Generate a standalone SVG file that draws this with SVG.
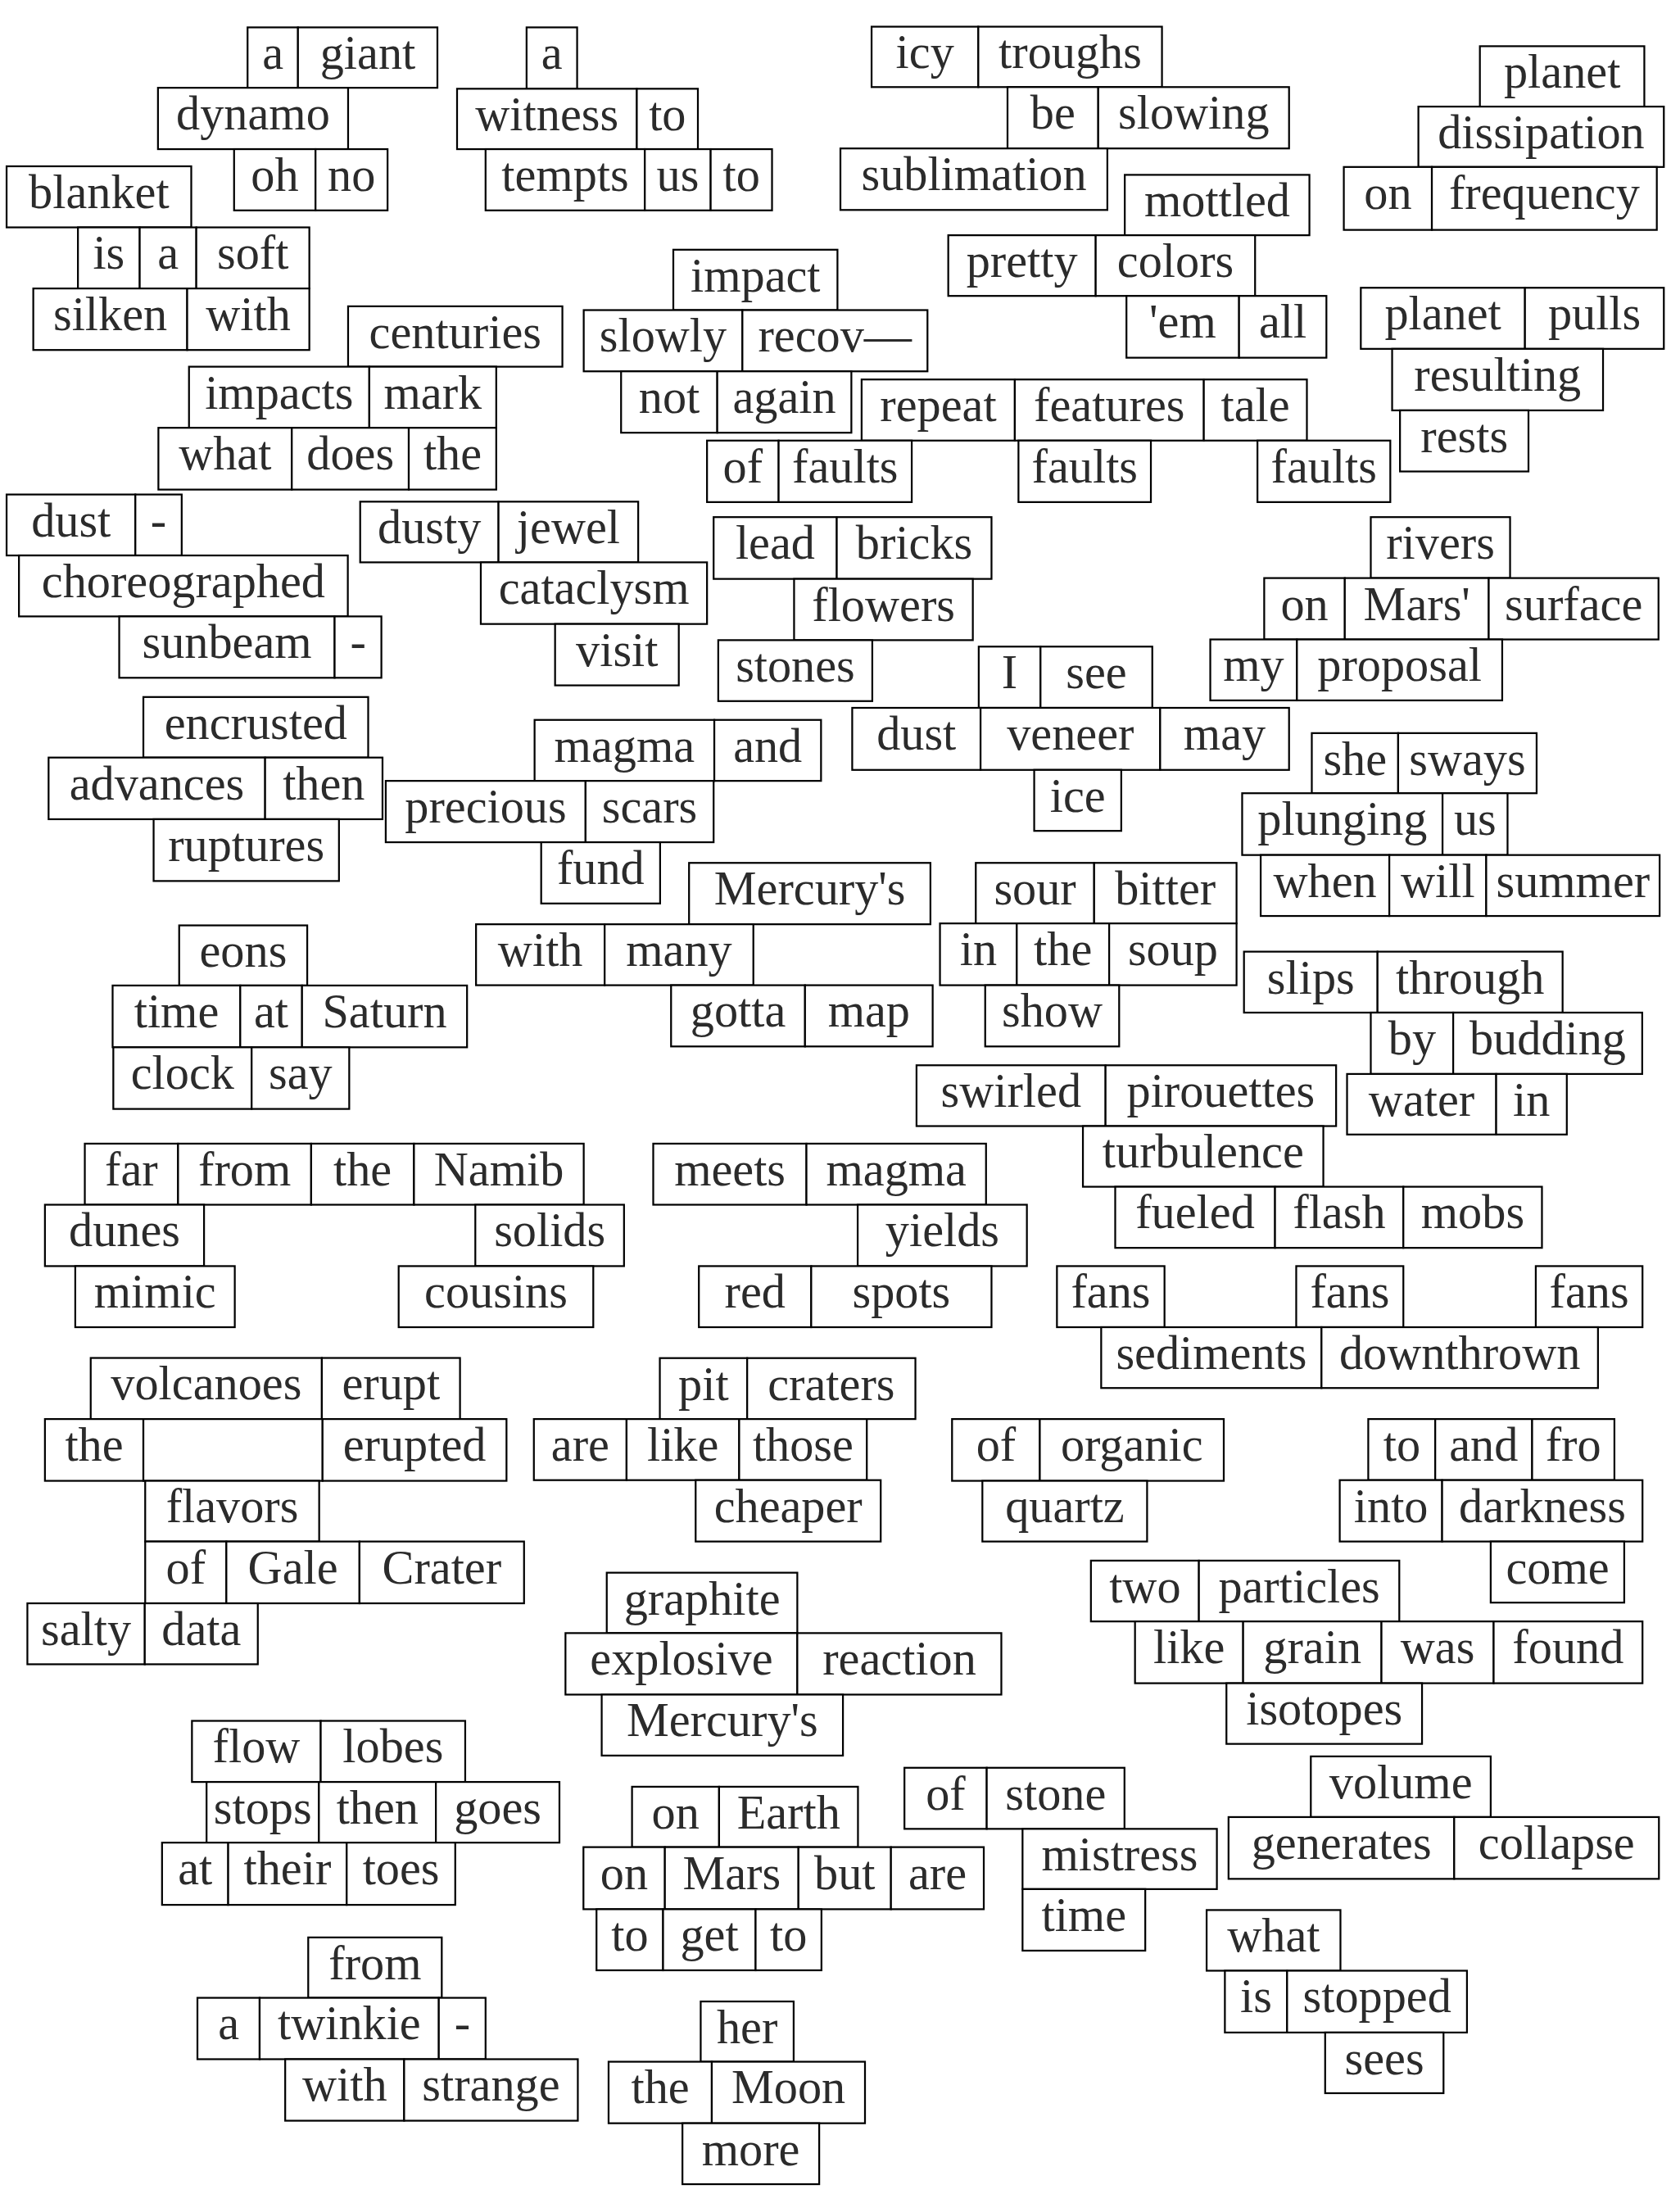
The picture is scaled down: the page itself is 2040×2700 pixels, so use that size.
<svg xmlns="http://www.w3.org/2000/svg" width="2040" height="2700" viewBox="0 0 2040 2700">
<style>
rect{fill:#fff;stroke:#000;stroke-width:1.3}
text{font-family:"Liberation Serif","Times New Roman",serif;font-size:34px;fill:#2b2b2b;text-anchor:middle}
</style>
<rect x="0" y="0" width="2040" height="2700" style="stroke:none"/>
<g transform="scale(1.714286)">
<g id="connectors"/>
<g id="n-giant">
<rect x="176.3" y="19.5" width="35.9" height="43"/><text x="194.3" y="49.2">a</text>
<rect x="212.2" y="19.5" width="99.3" height="43"/><text x="261.9" y="49.2">giant</text>
<rect x="112.5" y="62.5" width="135.4" height="43.7"/><text x="180.2" y="92.2">dynamo</text>
<rect x="166.7" y="106.2" width="58" height="43.6"/><text x="195.7" y="135.9">oh</text>
<rect x="224.7" y="106.2" width="51.3" height="43.6"/><text x="250.4" y="135.9">no</text>
</g>
<g id="n-blanket">
<rect x="4.7" y="118.4" width="131.5" height="43.5"/><text x="70.5" y="148.1">blanket</text>
<rect x="55.5" y="161.9" width="44" height="43.5"/><text x="77.5" y="191.6">is</text>
<rect x="99.5" y="161.9" width="40.3" height="43.5"/><text x="119.7" y="191.6">a</text>
<rect x="139.8" y="161.9" width="80.5" height="43.5"/><text x="180.1" y="191.6">soft</text>
<rect x="23.7" y="205.4" width="109.6" height="43.8"/><text x="78.5" y="235.1">silken</text>
<rect x="133.3" y="205.4" width="87" height="43.8"/><text x="176.8" y="235.1">with</text>
</g>
<g id="n-witness">
<rect x="375" y="19.5" width="36" height="43.7"/><text x="393" y="49.2">a</text>
<rect x="325.5" y="63.2" width="128" height="43"/><text x="389.5" y="92.9">witness</text>
<rect x="453.5" y="63.2" width="43.5" height="43"/><text x="475.3" y="92.9">to</text>
<rect x="345.8" y="106.2" width="113.4" height="43.6"/><text x="402.5" y="135.9">tempts</text>
<rect x="459.2" y="106.2" width="46.9" height="43.6"/><text x="482.7" y="135.9">us</text>
<rect x="506.1" y="106.2" width="43.7" height="43.6"/><text x="528" y="135.9">to</text>
</g>
<g id="n-icy">
<rect x="620.7" y="19" width="76" height="43"/><text x="658.7" y="48.7">icy</text>
<rect x="696.7" y="19" width="130.8" height="43"/><text x="762.1" y="48.7">troughs</text>
<rect x="717.5" y="62" width="64.6" height="43.7"/><text x="749.8" y="91.7">be</text>
<rect x="782.1" y="62" width="135.9" height="43.7"/><text x="850.1" y="91.7">slowing</text>
<rect x="598.5" y="105.7" width="190.1" height="43.8"/><text x="693.6" y="135.4">sublimation</text>
</g>
<g id="n-dissipation">
<rect x="1053.9" y="32.9" width="117.1" height="43"/><text x="1112.5" y="62.6">planet</text>
<rect x="1010.1" y="75.9" width="174.8" height="43"/><text x="1097.5" y="105.6">dissipation</text>
<rect x="957" y="118.9" width="62.7" height="44.8"/><text x="988.4" y="148.6">on</text>
<rect x="1019.7" y="118.9" width="160.2" height="44.8"/><text x="1099.8" y="148.6">frequency</text>
</g>
<g id="n-mottled">
<rect x="801" y="124.5" width="131.5" height="43"/><text x="866.8" y="154.2">mottled</text>
<rect x="675.3" y="167.5" width="105" height="43.2"/><text x="727.8" y="197.2">pretty</text>
<rect x="780.3" y="167.5" width="113.5" height="43.2"/><text x="837.1" y="197.2">colors</text>
<rect x="802.2" y="210.7" width="80.2" height="44"/><text x="842.3" y="240.4">'em</text>
<rect x="882.4" y="210.7" width="62.2" height="44"/><text x="913.5" y="240.4">all</text>
</g>
<g id="n-impact">
<rect x="479.5" y="177.8" width="116.9" height="43"/><text x="538" y="207.5">impact</text>
<rect x="415.7" y="220.8" width="113" height="43.6"/><text x="472.2" y="250.5">slowly</text>
<rect x="528.7" y="220.8" width="131.8" height="43.6"/><text x="594.6" y="250.5">recov—</text>
<rect x="442.3" y="264.4" width="68.5" height="43.7"/><text x="476.6" y="294.1">not</text>
<rect x="510.8" y="264.4" width="95.5" height="43.7"/><text x="558.6" y="294.1">again</text>
</g>
<g id="n-centuries">
<rect x="247.9" y="218.1" width="152.6" height="43"/><text x="324.2" y="247.8">centuries</text>
<rect x="134.6" y="261.1" width="128.4" height="43.5"/><text x="198.8" y="290.8">impacts</text>
<rect x="263" y="261.1" width="90.4" height="43.5"/><text x="308.2" y="290.8">mark</text>
<rect x="112.8" y="304.6" width="95" height="44"/><text x="160.3" y="334.3">what</text>
<rect x="207.8" y="304.6" width="83.3" height="44"/><text x="249.5" y="334.3">does</text>
<rect x="291.1" y="304.6" width="62.3" height="44"/><text x="322.3" y="334.3">the</text>
</g>
<g id="n-pulls">
<rect x="969.1" y="204.9" width="116.9" height="43.5"/><text x="1027.6" y="234.6">planet</text>
<rect x="1086" y="204.9" width="98.9" height="43.5"/><text x="1135.5" y="234.6">pulls</text>
<rect x="991.4" y="248.4" width="150.2" height="43.8"/><text x="1066.5" y="278.1">resulting</text>
<rect x="997" y="292.2" width="91.5" height="43.5"/><text x="1042.8" y="321.9">rests</text>
</g>
<g id="n-faults">
<rect x="613.6" y="270.2" width="109.1" height="43.5"/><text x="668.2" y="299.9">repeat</text>
<rect x="722.7" y="270.2" width="134.6" height="43.5"/><text x="790" y="299.9">features</text>
<rect x="857.3" y="270.2" width="73.4" height="43.5"/><text x="894" y="299.9">tale</text>
<rect x="503.5" y="313.7" width="51" height="43.8"/><text x="529" y="343.4">of</text>
<rect x="554.5" y="313.7" width="94.8" height="43.8"/><text x="601.9" y="343.4">faults</text>
<rect x="725.3" y="313.7" width="94.3" height="43.8"/><text x="772.5" y="343.4">faults</text>
<rect x="895.5" y="313.7" width="94.6" height="43.8"/><text x="942.8" y="343.4">faults</text>
</g>
<g id="n-dust">
<rect x="4.7" y="352.1" width="91.7" height="43.4"/><text x="50.6" y="381.8">dust</text>
<rect x="96.4" y="352.1" width="33" height="43.4"/><text x="112.9" y="381.8">-</text>
<rect x="13.5" y="395.5" width="234.2" height="43.4"/><text x="130.6" y="425.2">choreographed</text>
<rect x="84.9" y="438.9" width="153.4" height="43.7"/><text x="161.6" y="468.6">sunbeam</text>
<rect x="238.3" y="438.9" width="33.3" height="43.7"/><text x="255" y="468.6">-</text>
</g>
<g id="n-jewel">
<rect x="256.5" y="357.2" width="98.5" height="43.2"/><text x="305.8" y="386.9">dusty</text>
<rect x="355" y="357.2" width="99.5" height="43.2"/><text x="404.8" y="386.9">jewel</text>
<rect x="342.4" y="400.4" width="161.1" height="43.9"/><text x="423" y="430.1">cataclysm</text>
<rect x="395.3" y="444.3" width="88.1" height="43.7"/><text x="439.4" y="474">visit</text>
</g>
<g id="n-bricks">
<rect x="508.2" y="368.2" width="87.7" height="44"/><text x="552.1" y="397.9">lead</text>
<rect x="595.9" y="368.2" width="110.2" height="44"/><text x="651" y="397.9">bricks</text>
<rect x="565.5" y="412.2" width="127.3" height="43.6"/><text x="629.2" y="441.9">flowers</text>
<rect x="511.5" y="455.8" width="109.7" height="43.4"/><text x="566.4" y="485.5">stones</text>
</g>
<g id="n-rivers">
<rect x="976.2" y="368.2" width="99.2" height="43.4"/><text x="1025.8" y="397.9">rivers</text>
<rect x="900.3" y="411.6" width="57.4" height="43.7"/><text x="929" y="441.3">on</text>
<rect x="957.7" y="411.6" width="102.5" height="43.7"/><text x="1009" y="441.3">Mars'</text>
<rect x="1060.2" y="411.6" width="120.9" height="43.7"/><text x="1120.7" y="441.3">surface</text>
<rect x="861.9" y="455.3" width="61.7" height="43.4"/><text x="892.8" y="485">my</text>
<rect x="923.6" y="455.3" width="146.2" height="43.4"/><text x="996.7" y="485">proposal</text>
</g>
<g id="n-isee">
<rect x="697" y="460.4" width="44" height="43.6"/><text x="719" y="490.1">I</text>
<rect x="741" y="460.4" width="79.6" height="43.6"/><text x="780.8" y="490.1">see</text>
<rect x="606.9" y="504" width="91.4" height="44.2"/><text x="652.6" y="533.7">dust</text>
<rect x="698.3" y="504" width="127.9" height="44.2"/><text x="762.3" y="533.7">veneer</text>
<rect x="826.2" y="504" width="91.8" height="44.2"/><text x="872.1" y="533.7">may</text>
<rect x="736.5" y="548.2" width="62" height="43.4"/><text x="767.5" y="577.9">ice</text>
</g>
<g id="n-encrusted">
<rect x="102.1" y="496.3" width="160.1" height="43.1"/><text x="182.2" y="526">encrusted</text>
<rect x="34.6" y="539.4" width="154.2" height="43.9"/><text x="111.7" y="569.1">advances</text>
<rect x="188.8" y="539.4" width="83.6" height="43.9"/><text x="230.6" y="569.1">then</text>
<rect x="109.4" y="583.3" width="132" height="44"/><text x="175.4" y="613">ruptures</text>
</g>
<g id="n-magma">
<rect x="380.7" y="512.6" width="128" height="43.4"/><text x="444.7" y="542.3">magma</text>
<rect x="508.7" y="512.6" width="76" height="43.4"/><text x="546.7" y="542.3">and</text>
<rect x="274.7" y="556" width="142.3" height="43.7"/><text x="345.9" y="585.7">precious</text>
<rect x="417" y="556" width="91.2" height="43.7"/><text x="462.6" y="585.7">scars</text>
<rect x="385.4" y="599.7" width="84.7" height="43.6"/><text x="427.8" y="629.4">fund</text>
</g>
<g id="n-sways">
<rect x="934.2" y="522" width="61.5" height="42.8"/><text x="965" y="551.7">she</text>
<rect x="995.7" y="522" width="98.6" height="42.8"/><text x="1045" y="551.7">sways</text>
<rect x="884.6" y="564.8" width="142.7" height="44"/><text x="956" y="594.5">plunging</text>
<rect x="1027.3" y="564.8" width="46.3" height="44"/><text x="1050.5" y="594.5">us</text>
<rect x="897.8" y="608.8" width="91.6" height="43.4"/><text x="943.6" y="638.5">when</text>
<rect x="989.4" y="608.8" width="69" height="43.4"/><text x="1023.9" y="638.5">will</text>
<rect x="1058.4" y="608.8" width="123.5" height="43.4"/><text x="1120.2" y="638.5">summer</text>
</g>
<g id="n-mercury1">
<rect x="490.7" y="614.4" width="171.9" height="43.7"/><text x="576.7" y="644.1">Mercury's</text>
<rect x="339" y="658.1" width="91.6" height="43.4"/><text x="384.8" y="687.8">with</text>
<rect x="430.6" y="658.1" width="105.9" height="43.4"/><text x="483.6" y="687.8">many</text>
<rect x="477.9" y="701.5" width="95.4" height="43.6"/><text x="525.6" y="731.2">gotta</text>
<rect x="573.3" y="701.5" width="90.9" height="43.6"/><text x="618.8" y="731.2">map</text>
</g>
<g id="n-sour">
<rect x="694.9" y="614.4" width="84.3" height="43.1"/><text x="737.1" y="644.1">sour</text>
<rect x="779.2" y="614.4" width="101.4" height="43.1"/><text x="829.9" y="644.1">bitter</text>
<rect x="669.4" y="657.5" width="54.7" height="44"/><text x="696.8" y="687.2">in</text>
<rect x="724.1" y="657.5" width="65.8" height="44"/><text x="757" y="687.2">the</text>
<rect x="789.9" y="657.5" width="90.7" height="44"/><text x="835.3" y="687.2">soup</text>
<rect x="701.6" y="701.5" width="95.4" height="43.6"/><text x="749.3" y="731.2">show</text>
</g>
<g id="n-eons">
<rect x="127.6" y="658.9" width="91.2" height="42.8"/><text x="173.2" y="688.6">eons</text>
<rect x="80.2" y="701.7" width="90.9" height="44"/><text x="125.7" y="731.4">time</text>
<rect x="171.1" y="701.7" width="44" height="44"/><text x="193.1" y="731.4">at</text>
<rect x="215.1" y="701.7" width="117.5" height="44"/><text x="273.9" y="731.4">Saturn</text>
<rect x="80.7" y="745.7" width="98.5" height="43.9"/><text x="130" y="775.4">clock</text>
<rect x="179.2" y="745.7" width="69.5" height="43.9"/><text x="214" y="775.4">say</text>
</g>
<g id="n-slips">
<rect x="885.9" y="677.6" width="95.1" height="43.4"/><text x="933.5" y="707.3">slips</text>
<rect x="981" y="677.6" width="131.8" height="43.4"/><text x="1046.9" y="707.3">through</text>
<rect x="976.2" y="721" width="58.7" height="43.7"/><text x="1005.6" y="750.7">by</text>
<rect x="1034.9" y="721" width="134.6" height="43.7"/><text x="1102.2" y="750.7">budding</text>
<rect x="959.3" y="764.7" width="106.2" height="43.1"/><text x="1012.4" y="794.4">water</text>
<rect x="1065.5" y="764.7" width="50.3" height="43.1"/><text x="1090.7" y="794.4">in</text>
</g>
<g id="n-swirled">
<rect x="652.7" y="758.5" width="134.6" height="43.3"/><text x="720" y="788.2">swirled</text>
<rect x="787.3" y="758.5" width="164.2" height="43.3"/><text x="869.4" y="788.2">pirouettes</text>
<rect x="771.2" y="801.8" width="171.2" height="43.2"/><text x="856.8" y="831.5">turbulence</text>
<rect x="794.2" y="845" width="113.8" height="43.5"/><text x="851.1" y="874.7">fueled</text>
<rect x="908" y="845" width="91.4" height="43.5"/><text x="953.7" y="874.7">flash</text>
<rect x="999.4" y="845" width="98.7" height="43.5"/><text x="1048.8" y="874.7">mobs</text>
</g>
<g id="n-namib">
<rect x="60.4" y="814.3" width="66.4" height="43.5"/><text x="93.6" y="844">far</text>
<rect x="126.8" y="814.3" width="94.8" height="43.5"/><text x="174.2" y="844">from</text>
<rect x="221.6" y="814.3" width="73.2" height="43.5"/><text x="258.2" y="844">the</text>
<rect x="294.8" y="814.3" width="120.9" height="43.5"/><text x="355.3" y="844">Namib</text>
<rect x="32" y="857.8" width="113.3" height="43.7"/><text x="88.7" y="887.5">dunes</text>
<rect x="338.5" y="857.8" width="105.9" height="43.7"/><text x="391.5" y="887.5">solids</text>
<rect x="53.6" y="901.5" width="113.6" height="43.5"/><text x="110.4" y="931.2">mimic</text>
<rect x="283.9" y="901.5" width="138.6" height="43.5"/><text x="353.2" y="931.2">cousins</text>
</g>
<g id="n-meets">
<rect x="465.2" y="814.3" width="109.1" height="43.5"/><text x="519.8" y="844">meets</text>
<rect x="574.3" y="814.3" width="127.9" height="43.5"/><text x="638.3" y="844">magma</text>
<rect x="610.8" y="857.8" width="120.5" height="43.7"/><text x="671.1" y="887.5">yields</text>
<rect x="497.7" y="901.5" width="80" height="43.5"/><text x="537.7" y="931.2">red</text>
<rect x="577.7" y="901.5" width="128.4" height="43.5"/><text x="641.9" y="931.2">spots</text>
</g>
<g id="n-fans">
<rect x="752.7" y="901.5" width="76.6" height="43.5"/><text x="791" y="931.2">fans</text>
<rect x="923.1" y="901.5" width="76.3" height="43.5"/><text x="961.3" y="931.2">fans</text>
<rect x="1093.7" y="901.5" width="76" height="43.5"/><text x="1131.7" y="931.2">fans</text>
<rect x="784.2" y="945" width="156.9" height="43.3"/><text x="862.7" y="974.7">sediments</text>
<rect x="941.1" y="945" width="196.9" height="43.3"/><text x="1039.6" y="974.7">downthrown</text>
</g>
<g id="n-volcanoes">
<rect x="64.6" y="966.9" width="164.6" height="43.5"/><text x="146.9" y="996.6">volcanoes</text>
<rect x="229.2" y="966.9" width="98.4" height="43.5"/><text x="278.4" y="996.6">erupt</text>
<rect x="32" y="1010.4" width="70.1" height="44"/><text x="67.1" y="1040.1">the</text>
<rect x="102.1" y="1010.4" width="127.6" height="44"/>
<rect x="229.7" y="1010.4" width="131" height="44"/><text x="295.2" y="1040.1">erupted</text>
<rect x="103.4" y="1054.4" width="123.9" height="43.2"/><text x="165.4" y="1084.1">flavors</text>
<rect x="103.4" y="1097.6" width="57.8" height="44"/><text x="132.3" y="1127.3">of</text>
<rect x="161.2" y="1097.6" width="94.8" height="44"/><text x="208.6" y="1127.3">Gale</text>
<rect x="256" y="1097.6" width="117.2" height="44"/><text x="314.6" y="1127.3">Crater</text>
<rect x="19.5" y="1141.6" width="83.6" height="43.4"/><text x="61.3" y="1171.3">salty</text>
<rect x="103.1" y="1141.6" width="80.5" height="43.4"/><text x="143.4" y="1171.3">data</text>
</g>
<g id="n-pit">
<rect x="469.9" y="967" width="62.2" height="43.4"/><text x="501" y="996.7">pit</text>
<rect x="532.1" y="967" width="119.8" height="43.4"/><text x="592" y="996.7">craters</text>
<rect x="380.2" y="1010.4" width="66" height="43.5"/><text x="413.2" y="1040.1">are</text>
<rect x="446.2" y="1010.4" width="80.2" height="43.5"/><text x="486.3" y="1040.1">like</text>
<rect x="526.4" y="1010.4" width="90.9" height="43.5"/><text x="571.9" y="1040.1">those</text>
<rect x="495.4" y="1053.9" width="131.8" height="43.7"/><text x="561.3" y="1083.6">cheaper</text>
</g>
<g id="n-organic">
<rect x="678" y="1010.4" width="62.5" height="44"/><text x="709.3" y="1040.1">of</text>
<rect x="740.5" y="1010.4" width="131" height="44"/><text x="806" y="1040.1">organic</text>
<rect x="699.6" y="1054.4" width="117.3" height="43.2"/><text x="758.3" y="1084.1">quartz</text>
</g>
<g id="n-fro">
<rect x="974.4" y="1010.4" width="47.7" height="43.5"/><text x="998.3" y="1040.1">to</text>
<rect x="1022.1" y="1010.4" width="69" height="43.5"/><text x="1056.6" y="1040.1">and</text>
<rect x="1091.1" y="1010.4" width="58.6" height="43.5"/><text x="1120.4" y="1040.1">fro</text>
<rect x="954.1" y="1053.9" width="72.9" height="43.7"/><text x="990.6" y="1083.6">into</text>
<rect x="1027" y="1053.9" width="142.7" height="43.7"/><text x="1098.4" y="1083.6">darkness</text>
<rect x="1061.6" y="1097.6" width="95.1" height="43.5"/><text x="1109.2" y="1127.3">come</text>
</g>
<g id="n-particles">
<rect x="776.9" y="1111.2" width="76.9" height="43.3"/><text x="815.4" y="1140.9">two</text>
<rect x="853.8" y="1111.2" width="142.7" height="43.3"/><text x="925.2" y="1140.9">particles</text>
<rect x="808.3" y="1154.5" width="77" height="44"/><text x="846.8" y="1184.2">like</text>
<rect x="885.3" y="1154.5" width="98.5" height="44"/><text x="934.6" y="1184.2">grain</text>
<rect x="983.8" y="1154.5" width="79.9" height="44"/><text x="1023.8" y="1184.2">was</text>
<rect x="1063.7" y="1154.5" width="106" height="44"/><text x="1116.7" y="1184.2">found</text>
<rect x="873.4" y="1198.5" width="139.3" height="43.2"/><text x="943.1" y="1228.2">isotopes</text>
</g>
<g id="n-graphite">
<rect x="432.1" y="1119.8" width="135.7" height="43"/><text x="500" y="1149.5">graphite</text>
<rect x="402.7" y="1162.8" width="165.1" height="43.8"/><text x="485.3" y="1192.5">explosive</text>
<rect x="567.8" y="1162.8" width="145.3" height="43.8"/><text x="640.5" y="1192.5">reaction</text>
<rect x="428.5" y="1206.6" width="171.8" height="43.4"/><text x="514.4" y="1236.3">Mercury's</text>
</g>
<g id="n-flow">
<rect x="136.7" y="1225.3" width="91.7" height="43.5"/><text x="182.6" y="1255">flow</text>
<rect x="228.4" y="1225.3" width="102.9" height="43.5"/><text x="279.9" y="1255">lobes</text>
<rect x="147.1" y="1268.8" width="80" height="43.2"/><text x="187.1" y="1298.5">stops</text>
<rect x="227.1" y="1268.8" width="83.3" height="43.2"/><text x="268.8" y="1298.5">then</text>
<rect x="310.4" y="1268.8" width="88" height="43.2"/><text x="354.4" y="1298.5">goes</text>
<rect x="115.4" y="1312" width="47.1" height="44.3"/><text x="139" y="1341.7">at</text>
<rect x="162.5" y="1312" width="84.4" height="44.3"/><text x="204.7" y="1341.7">their</text>
<rect x="246.9" y="1312" width="77.3" height="44.3"/><text x="285.6" y="1341.7">toes</text>
</g>
<g id="n-earth">
<rect x="450.1" y="1272.2" width="62" height="43"/><text x="481.1" y="1301.9">on</text>
<rect x="512.1" y="1272.2" width="98.9" height="43"/><text x="561.6" y="1301.9">Earth</text>
<rect x="415.5" y="1315.2" width="58" height="44.2"/><text x="444.5" y="1344.9">on</text>
<rect x="473.5" y="1315.2" width="95.1" height="44.2"/><text x="521.1" y="1344.9">Mars</text>
<rect x="568.6" y="1315.2" width="65.9" height="44.2"/><text x="601.6" y="1344.9">but</text>
<rect x="634.5" y="1315.2" width="66.1" height="44.2"/><text x="667.6" y="1344.9">are</text>
<rect x="424.8" y="1359.4" width="47.4" height="43.5"/><text x="448.5" y="1389.1">to</text>
<rect x="472.2" y="1359.4" width="65.9" height="43.5"/><text x="505.2" y="1389.1">get</text>
<rect x="538.1" y="1359.4" width="46.9" height="43.5"/><text x="561.6" y="1389.1">to</text>
</g>
<g id="n-stone">
<rect x="644.1" y="1258.7" width="58.6" height="43.5"/><text x="673.4" y="1288.4">of</text>
<rect x="702.7" y="1258.7" width="98.1" height="43.5"/><text x="751.8" y="1288.4">stone</text>
<rect x="728.2" y="1302.2" width="138.4" height="42.9"/><text x="797.4" y="1331.9">mistress</text>
<rect x="728.2" y="1345.1" width="87.4" height="43.8"/><text x="771.9" y="1374.8">time</text>
</g>
<g id="n-volume">
<rect x="933.5" y="1250.6" width="128.1" height="43.2"/><text x="997.6" y="1280.3">volume</text>
<rect x="874.9" y="1293.8" width="160.7" height="44"/><text x="955.3" y="1323.5">generates</text>
<rect x="1035.6" y="1293.8" width="145.8" height="44"/><text x="1108.5" y="1323.5">collapse</text>
</g>
<g id="n-stopped">
<rect x="859.3" y="1360" width="95.3" height="43.2"/><text x="907" y="1389.7">what</text>
<rect x="872.3" y="1403.2" width="44.3" height="44"/><text x="894.5" y="1432.9">is</text>
<rect x="916.6" y="1403.2" width="128.1" height="44"/><text x="980.7" y="1432.9">stopped</text>
<rect x="943.7" y="1447.2" width="84.3" height="43.2"/><text x="985.9" y="1476.9">sees</text>
</g>
<g id="n-twinkie">
<rect x="219.5" y="1379.5" width="95.1" height="43"/><text x="267.1" y="1409.2">from</text>
<rect x="140.6" y="1422.5" width="44.3" height="43.7"/><text x="162.8" y="1452.2">a</text>
<rect x="184.9" y="1422.5" width="127.6" height="43.7"/><text x="248.7" y="1452.2">twinkie</text>
<rect x="312.5" y="1422.5" width="33.3" height="43.7"/><text x="329.2" y="1452.2">-</text>
<rect x="203.1" y="1466.2" width="84.7" height="43.8"/><text x="245.5" y="1495.9">with</text>
<rect x="287.8" y="1466.2" width="123.7" height="43.8"/><text x="349.7" y="1495.9">strange</text>
</g>
<g id="n-moon">
<rect x="499" y="1425.1" width="66.2" height="42.9"/><text x="532.1" y="1454.8">her</text>
<rect x="433.4" y="1468" width="73.5" height="43.8"/><text x="470.2" y="1497.7">the</text>
<rect x="506.9" y="1468" width="109.1" height="43.8"/><text x="561.5" y="1497.7">Moon</text>
<rect x="486" y="1511.8" width="97.4" height="43.4"/><text x="534.7" y="1541.5">more</text>
</g>
</g>
</svg>
